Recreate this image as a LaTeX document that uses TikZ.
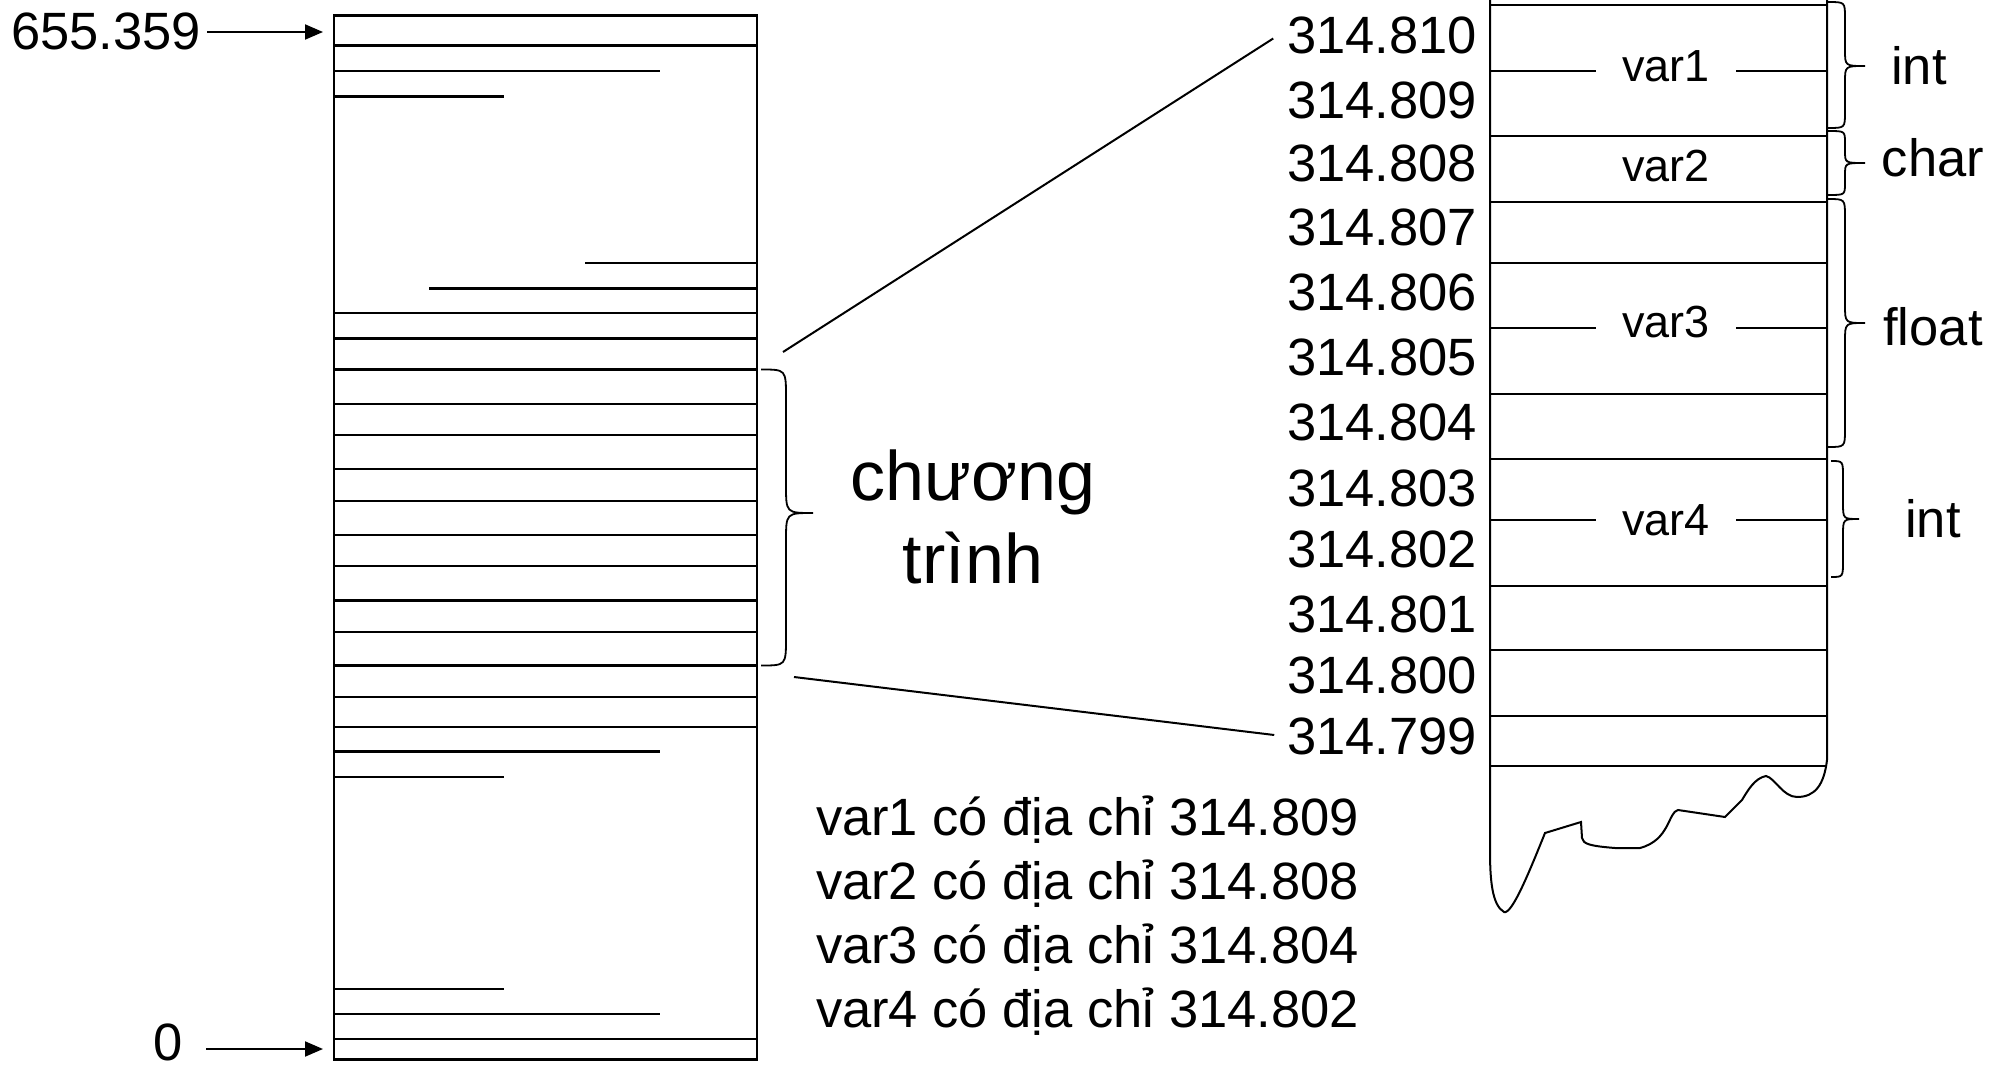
\documentclass[tikz,border=0pt]{standalone}
\usepackage{fontspec}
\setmainfont{Liberation Sans}
\usetikzlibrary{arrows.meta}
\newcommand\mybrace[7]{\draw[brc] (#1,#2) .. controls (#5,#2) .. (#5,{#2+#7}) -- (#5,{#4-#7}) .. controls (#5,#4) .. (#6,#4) .. controls (#5,#4) .. (#5,{#4+#7}) -- (#5,{#3-#7}) .. controls (#5,#3) .. (#1,#3);}
\begin{document}
\begin{tikzpicture}[x=1pt,y=-1pt,
  line width=2pt,
  big/.style={inner sep=0pt, font=\fontsize{52.5}{62}\selectfont},
  huge/.style={inner sep=0pt, font=\fontsize{70}{84}\selectfont},
  vlab/.style={inner sep=0pt, minimum width=138pt, font=\fontsize{45}{54}\selectfont},
  addr/.style={big, anchor=east},
  brc/.style={line width=1.8pt},
  lbox/.style={line width=2.6pt},
  rbox/.style={line width=2pt},
  ptr/.style={-{Triangle[length=18pt,width=15pt]}, line width=2pt}
]
\useasboundingbox (0,0) rectangle (2006,1065);

% ---------- left memory column ----------
\draw[lbox] (334,15.5) rectangle (757,1059.5);
\foreach \y in {45.7,313,338.5,369.5,404,435,469,501,535,566,600.5,632,665.5,697,727,1039}
  \draw[lbox] (334,\y) -- (757,\y);
\draw[lbox] (334,71) -- (660,71);
\draw[lbox] (334,96.5) -- (504,96.5);
\draw[lbox] (585,263) -- (757,263);
\draw[lbox] (429,288.5) -- (757,288.5);
\draw[lbox] (334,751.5) -- (660,751.5);
\draw[lbox] (334,777) -- (504,777);
\draw[lbox] (334,989) -- (504,989);
\draw[lbox] (334,1014) -- (660,1014);

\node[big, anchor=east] (ltop) at (202,31) {655.359};
\node[big] (lzero) at (168,1042) {0};
\coordinate (ttop) at (323,32);
\coordinate (tzero) at (323,1049);
\draw[ptr] (ltop.east |- ttop) ++(5,0) -- (ttop);
\draw[ptr] (206,1049) -- (tzero);

% brace and label
\mybrace{761}{369.5}{665.5}{513}{786}{813}{28}
\node[huge, anchor=base] (prog1) at (973,500) {chương};
\node[huge, anchor=base] (prog2) at (973,583) {trình};

% ---------- right detail column ----------
\draw[rbox] (1827,0) -- (1827,760)
  .. controls (1824,785) and (1815,797) .. (1797,797)
  .. controls (1783,797) and (1775,778) .. (1766,776)
  .. controls (1755,778) and (1748,790) .. (1742,800)
  -- (1725,817) -- (1678,810)
  .. controls (1668,812) and (1670,840) .. (1640,848)
  -- (1615,848)
  .. controls (1590,846) and (1583,844) .. (1582,838)
  -- (1581,822) -- (1545,833)
  .. controls (1530,870) and (1512,915) .. (1504,912)
  .. controls (1492,905) and (1490,880) .. (1490,850)
  -- (1490,0);
\foreach \y in {5,136,201.5,263,394,459,585.5,650,716,766}
  \draw[rbox] (1490,\y) -- (1827,\y);

\node[vlab] (v1) at (1666,66) {var1};
\node[vlab] (v2) at (1666,166) {var2};
\node[vlab] (v3) at (1666,322) {var3};
\node[vlab] (v4) at (1666,520) {var4};
\draw[rbox] (1490,70.7) -- (v1.west |- 0,70.7);
\draw[rbox] (v1.east |- 0,70.7) -- (1827,70.7);
\draw[rbox] (1490,328) -- (v3.west |- 0,328);
\draw[rbox] (v3.east |- 0,328) -- (1827,328);
\draw[rbox] (1490,520) -- (v4.west |- 0,520);
\draw[rbox] (v4.east |- 0,520) -- (1827,520);

\node[addr] (a810) at (1478,35.5) {314.810};
\node[addr] (a809) at (1478,100) {314.809};
\node[addr] (a808) at (1478,163) {314.808};
\node[addr] (a807) at (1478,227) {314.807};
\node[addr] (a806) at (1478,292) {314.806};
\node[addr] (a805) at (1478,357) {314.805};
\node[addr] (a804) at (1478,422) {314.804};
\node[addr] (a803) at (1478,488) {314.803};
\node[addr] (a802) at (1478,549) {314.802};
\node[addr] (a801) at (1478,614) {314.801};
\node[addr] (a800) at (1478,675) {314.800};
\node[addr] (a799) at (1478,736) {314.799};

% type braces
\mybrace{1828}{2}{128}{66}{1845}{1865}{16}
\mybrace{1828}{131}{195}{163}{1845}{1865}{12}
\mybrace{1828}{199}{447}{323}{1845}{1865}{18}
\mybrace{1831}{461}{577}{519}{1843}{1859}{16}
\node[big] (t1) at (1919,66) {int};
\node[big] (t2) at (1933,158) {char};
\node[big] (t3) at (1933,327) {float};
\node[big] (t4) at (1933,519) {int};

% zoom connectors
\coordinate (zA) at (783,352);
\coordinate (zB) at (794,677);
\draw[rbox] (zA) -- ([xshift=-13pt,yshift=-3pt]a810.west);
\draw[rbox] (zB) -- ([xshift=-12pt,yshift=1pt]a799.west);

% address notes
\node[big, anchor=base west] (n1) at (815,835) {var1 có địa chỉ 314.809};
\node[big, anchor=base west] (n2) at (815,899) {var2 có địa chỉ 314.808};
\node[big, anchor=base west] (n3) at (815,963) {var3 có địa chỉ 314.804};
\node[big, anchor=base west] (n4) at (815,1027) {var4 có địa chỉ 314.802};
\end{tikzpicture}
\end{document}
